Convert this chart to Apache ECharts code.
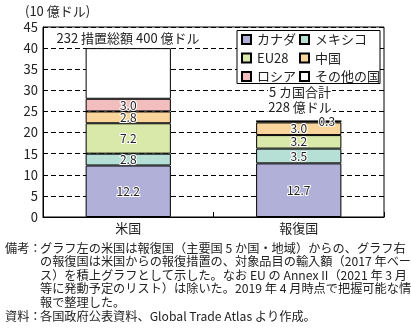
<!DOCTYPE html>
<html><head><meta charset="utf-8">
<script src="https://cdn.jsdelivr.net/npm/echarts@6/dist/echarts.min.js"></script>
<style>html,body{margin:0;padding:0;background:#fff}#c{width:411px;height:332px}</style>
</head><body><div id="c"></div>
<script>
const categories = ['米国', '報復国'];
const seriesNames = ['カナダ', 'メキシコ', 'EU28', '中国', 'ロシア', 'その他の国'];
const canada = [12.2, 12.7];
const mexico = [2.8, 3.5];
const eu28 = [7.2, 3.2];
const china = [2.8, 3.0];
const russia = [3.0, 0.3];
const others = [12.0, 0];
const yTicks = [0, 5, 10, 15, 20, 25, 30, 35, 40, 45];
const unitLabel = '(10 億ドル)';
const notes = [
  'グラフ左の米国は報復国（主要国 5 か国・地域）からの、グラフ右',
  'の報復国は米国からの報復措置の、対象品目の輸入額（2017 年ベー',
  'ス）を積上グラフとして示した。なお EU の Annex II（2021 年 3 月',
  '等に発動予定のリスト）は除いた。2019 年 4 月時点で把握可能な情',
  '報で整理した。'
];
const source = '各国政府公表資料、Global Trade Atlas より作成。';

const FONT = '"Noto Sans CJK JP", "Noto Sans", sans-serif';
const colors = ['#b0b0d8', '#b6e0d6', '#d9e9aa', '#f9d59c', '#f2bdbd', '#ffffff'];
const dataSets = [canada, mexico, eu28, china, russia, others];

const chart = echarts.init(document.getElementById('c'));
const labelBase = {
  show: true, position: 'inside', fontSize: 12, fontFamily: FONT, color: '#222',
  textBorderColor: '#fff', textBorderWidth: 2,
  formatter: p => p.value ? p.value.toFixed(1) : ''
};
const series = seriesNames.map((name, i) => ({
  name, type: 'bar', stack: 'total', barWidth: '50%',
  itemStyle: { color: colors[i], borderColor: '#000', borderWidth: 1 },
  label: i === 5 ? { show: false } : labelBase,
  data: dataSets[i].map((v, j) => {
    if (i === 4 && j === 1) {
      return { value: v, label: Object.assign({}, labelBase, { offset: [28, 0] }) };
    }
    return v;
  })
}));

const NF = '12.2px ' + FONT;
const graphics = [
  { type: 'text', left: 25, top: 5, style: { text: unitLabel, font: '13px ' + FONT, fill: '#222' } },
  { type: 'text', x: 128, y: 38, style: { text: '232 措置総額 400 億ドル', font: '13px ' + FONT, fill: '#222', align: 'center', verticalAlign: 'middle' } },
  { type: 'text', x: 128, y: 73, style: { text: '5 カ国合計', font: '13px ' + FONT, fill: '#222', align: 'center', verticalAlign: 'middle' } },
  { type: 'text', x: 128, y: 88, style: { text: '281 億ドル', font: '13px ' + FONT, fill: '#222', align: 'center', verticalAlign: 'middle' } },
  { type: 'text', x: 300, y: 92, z: 10, style: { text: '5 カ国合計', font: '13px ' + FONT, fill: '#222', align: 'center', verticalAlign: 'middle', backgroundColor: '#fff', padding: [0, 1] } },
  { type: 'text', x: 300, y: 107, z: 10, style: { text: '228 億ドル', font: '13px ' + FONT, fill: '#222', align: 'center', verticalAlign: 'middle', backgroundColor: '#fff', padding: [0, 1] } },
  { type: 'rect', shape: { x: 237, y: 30.5, width: 143, height: 53 }, z: 5, style: { fill: '#fff', stroke: '#000', lineWidth: 1 } },
  { type: 'text', x: 5, y: 248, style: { text: '備考：', font: NF, fill: '#222', verticalAlign: 'middle' } },
  { type: 'text', x: 5, y: 316, style: { text: '資料：', font: NF, fill: '#222', verticalAlign: 'middle' } },
  { type: 'text', x: 40, y: 316, style: { text: source, font: NF, fill: '#222', verticalAlign: 'middle' } }
];
notes.forEach((t, i) => {
  graphics.push({ type: 'text', x: 40, y: 248 + i * 13.6, style: { text: t, font: NF, fill: '#222', verticalAlign: 'middle' } });
});

const legendCommon = {
  orient: 'vertical', top: 33, padding: 0, itemGap: 5.5, itemWidth: 9, itemHeight: 9,
  selectedMode: false, icon: 'rect', z: 6,
  textStyle: { fontSize: 13, lineHeight: 13, color: '#222', fontFamily: FONT, padding: [0, 0, 0, 1] }
};

chart.setOption({
  animation: false,
  textStyle: { fontFamily: FONT },
  grid: { left: 43, right: 27, top: 27, bottom: 115, show: true, borderColor: '#000', borderWidth: 1, containLabel: false },
  legend: [
    Object.assign({}, legendCommon, { left: 241, data: ['カナダ', 'EU28', 'ロシア'] }),
    Object.assign({}, legendCommon, { left: 299, data: ['メキシコ', '中国', 'その他の国'] })
  ],
  xAxis: {
    type: 'category', data: categories,
    axisLine: { lineStyle: { color: '#000' } },
    axisTick: { show: true, inside: true, length: 5, lineStyle: { color: '#000' } },
    axisLabel: { fontSize: 13, color: '#222', margin: 5, fontFamily: FONT }
  },
  yAxis: {
    type: 'value', min: yTicks[0], max: yTicks[yTicks.length - 1], interval: 5,
    axisLine: { show: true, lineStyle: { color: '#000' } },
    axisTick: { show: false },
    axisLabel: { fontSize: 13, color: '#222', margin: 5, fontFamily: FONT },
    splitLine: { show: true, lineStyle: { color: '#000', type: [5, 3], width: 1 } }
  },
  series,
  graphic: graphics
});
</script></body></html>
